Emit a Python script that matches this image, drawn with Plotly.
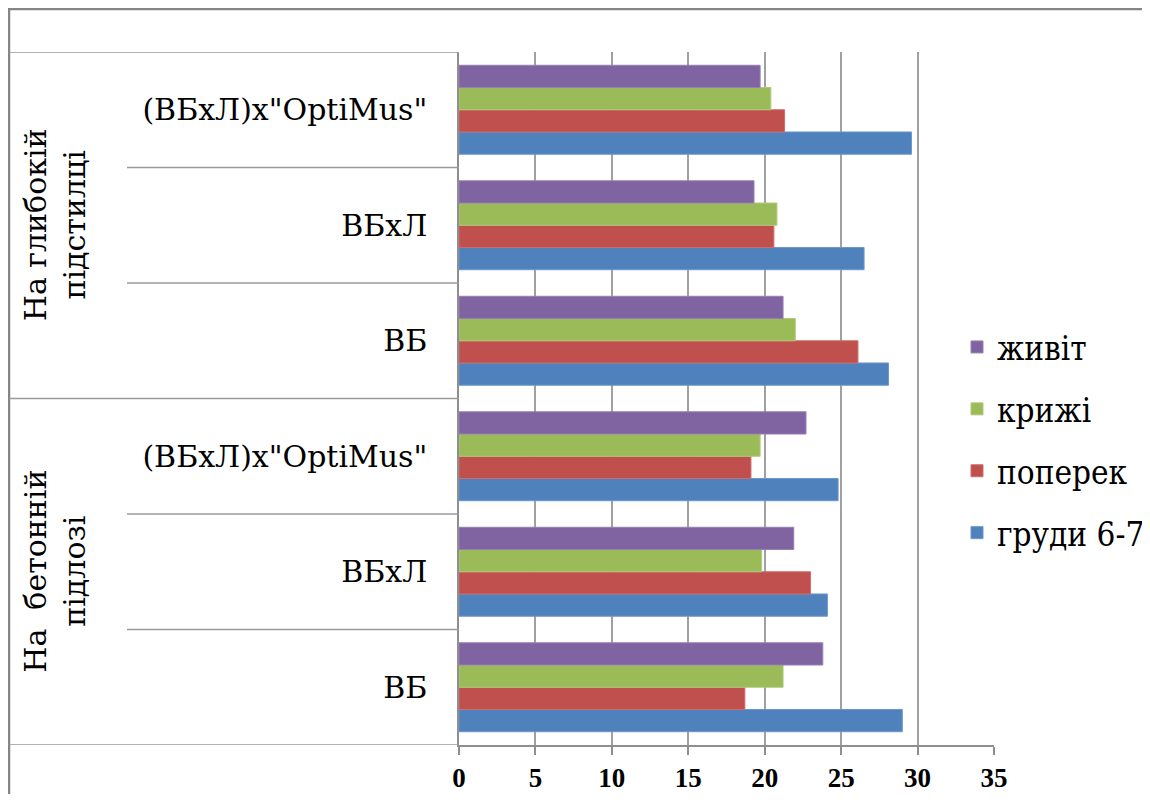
import plotly.graph_objects as go

# ---- data (bottom to top) ----
subcats = ["ВБ", "ВБхЛ", '(ВБхЛ)х"OptiMus"', "ВБ", "ВБхЛ", '(ВБхЛ)х"OptiMus"']
groups = ["На  бетонній<br>підлозі", "На глибокій<br>підстилці"]
positions = [0, 1, 2, 3, 4, 5]

series_names = ["груди 6-7", "поперек", "крижі", "живіт"]
chest = [29.0, 24.1, 24.8, 28.1, 26.5, 29.6]
loin = [18.7, 23.0, 19.1, 26.1, 20.6, 21.3]
sacrum = [21.2, 19.8, 19.7, 22.0, 20.8, 20.4]
belly = [23.8, 21.9, 22.7, 21.2, 19.3, 19.7]
colors = ["#4F81BD", "#C0504D", "#9BBB59", "#8064A2"]
line_colors = ["#6C96CC", "#CC6E6B", "#AECB78", "#9680B4"]
legend_ranks = [4, 3, 2, 1]

x_ticks = [0, 5, 10, 15, 20, 25, 30, 35]

SERIF = "DejaVu Serif"
SERIF_COND = "DejaVu Serif Condensed"
GRID = "#A0A0A0"
TABLE = "#9A9A9A"

fig = go.Figure()
for name, vals, c, lc, rk in zip(series_names, [chest, loin, sacrum, belly], colors, line_colors, legend_ranks):
    fig.add_trace(go.Bar(
        y=positions, x=vals, name=name, orientation="h",
        marker=dict(color=c, line=dict(color=lc, width=1)),
        legendgroup=name, legendrank=rk,
    ))

W, H = 1142, 786
L, R, T, B = 451, 156, 44, 49
pw, ph = W - L - R, H - T - B

def px_to_paper_x(fx):
    return (fx - L) / pw

def px_to_paper_y(fy):
    return (T + ph - fy) / ph

shapes = []
shapes.append(dict(type="rect", xref="paper", yref="paper",
                   x0=px_to_paper_x(1), x1=px_to_paper_x(1140),
                   y0=px_to_paper_y(H + 10), y1=px_to_paper_y(1),
                   line=dict(color="#858585", width=2.5), fillcolor="rgba(0,0,0,0)"))
for yb in [-0.5, 2.5, 5.5]:
    shapes.append(dict(type="line", xref="paper", yref="y",
                       x0=px_to_paper_x(1), x1=0, y0=yb, y1=yb,
                       line=dict(color=TABLE, width=1.5)))
for yb in [0.5, 1.5, 3.5, 4.5]:
    shapes.append(dict(type="line", xref="paper", yref="y",
                       x0=px_to_paper_x(119), x1=0, y0=yb, y1=yb,
                       line=dict(color=TABLE, width=1.5)))

annotations = []
for g, yc in zip(groups, [1, 4]):
    annotations.append(dict(text=g, xref="paper", yref="y",
                            x=px_to_paper_x(47), y=yc, textangle=-90,
                            showarrow=False, xanchor="center", yanchor="middle",
                            font=dict(family=SERIF, size=30, color="#000000")))

fig.update_layout(
    width=W, height=H,
    margin=dict(l=L, r=R, t=T, b=B, pad=0, autoexpand=False),
    paper_bgcolor="white", plot_bgcolor="white",
    barmode="group", bargap=0.23, bargroupgap=0,
    font=dict(family=SERIF, color="#000000"),
    showlegend=True,
    legend=dict(traceorder="grouped", tracegroupgap=16,
                x=px_to_paper_x(949), xanchor="left",
                y=px_to_paper_y(432), yanchor="middle",
                bgcolor="rgba(0,0,0,0)",
                font=dict(family=SERIF_COND, size=33, color="#000000")),
    xaxis=dict(range=[0, 35], tickvals=x_ticks, showgrid=True,
               gridcolor=GRID, gridwidth=1.5, zeroline=False,
               showline=True, linecolor="#8E8E8E", linewidth=1.5,
               ticks="outside", ticklen=8, tickcolor="#8E8E8E", tickwidth=1.5,
               tickfont=dict(family="Liberation Serif", size=27, color="#000000", weight="bold"),
               automargin=False, fixedrange=True),
    yaxis=dict(range=[-0.5, 5.5], tickvals=positions, ticktext=subcats,
               showgrid=False, zeroline=False, showline=True,
               linecolor="#8E8E8E", linewidth=1.5, ticks="",
               ticklabelstandoff=24,
               tickfont=dict(family=SERIF, size=30, color="#000000"),
               automargin=False, fixedrange=True),
    shapes=shapes, annotations=annotations,
)

fig.write_html("out.html")
